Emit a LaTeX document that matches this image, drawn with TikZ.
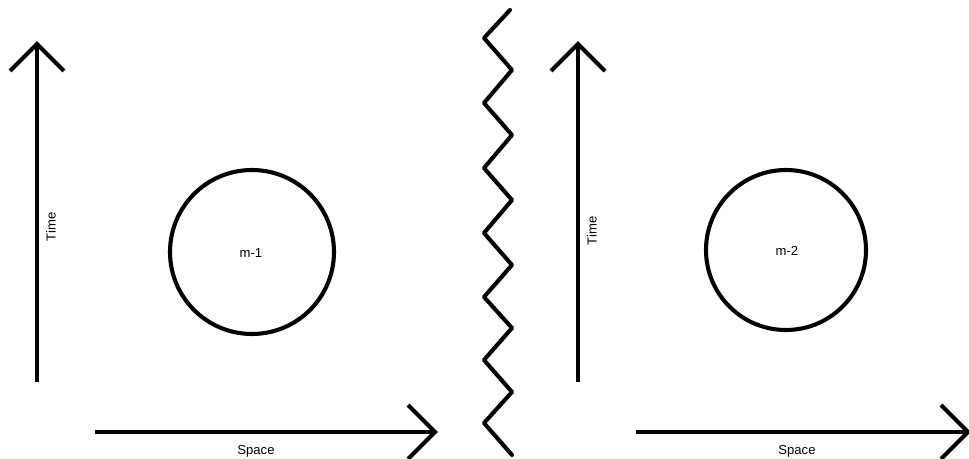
\documentclass[tikz,border=0pt]{standalone}
\usepackage{fontspec}
\setmainfont{Liberation Sans}
\usepackage{tikz}

\begin{document}
\begin{tikzpicture}[x=0.025cm,y=-0.025cm,line width=2.9pt,
    lbl/.style={font=\fontsize{9.3}{10}\selectfont}]
        \useasboundingbox (0,0) rectangle (969,459);
        \clip (0,0) rectangle (969,459);
        % left frame: time axis
        \draw (37,382) -- (37,44);
        \draw (10,71) -- (37,44) -- (64,71);
        % left frame: space axis
        \draw (95,432) -- (435,432);
        \draw (408,405) -- (435,432) -- (408,459);
        \draw (252,252) circle (82);
        \node[lbl,rotate=90] (time1) at (51,227) {Time};
        \node[lbl] (space1) at (256,451) {Space};
        \node[lbl] (mass1) at (251,253) {m-1};
        % zigzag divider
        \draw[line join=round,line cap=round] (510,10) -- (484,38) -- (512,70) -- (484,103)
          -- (512,135) -- (484,168) -- (512,200) -- (484,233) -- (512,265)
          -- (484,297) -- (512,328) -- (484,360) -- (512,392) -- (484,423) -- (512,455);
        % right frame: time axis
        \draw (578,382) -- (578,44);
        \draw (551,71) -- (578,44) -- (605,71);
        % right frame: space axis
        \draw (636,432) -- (968,432);
        \draw (941,405) -- (968,432) -- (941,459);
        \draw (786,250) circle (80);
        \node[lbl,rotate=90] (time2) at (592,231) {Time};
        \node[lbl] (space2) at (797,451) {Space};
        \node[lbl] (mass2) at (787,251) {m-2};
\end{tikzpicture}
\end{document}
